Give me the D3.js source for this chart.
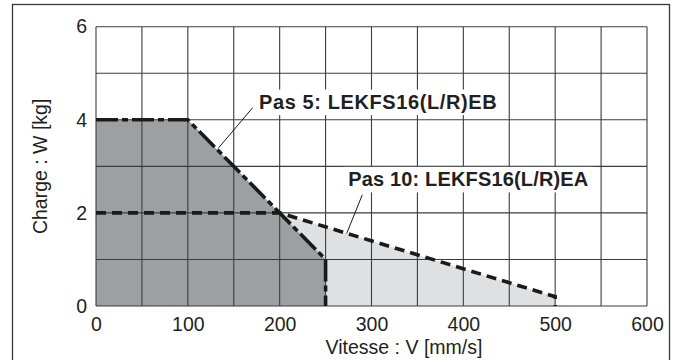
<!DOCTYPE html>
<html>
<head>
<meta charset="utf-8">
<script src="https://cdn.jsdelivr.net/npm/d3@7"></script>
<style>
  html, body { margin: 0; padding: 0; background: #fff; }
  svg { display: block; }
  text { font-family: "Liberation Sans", Arial, Helvetica, sans-serif; fill: #231f20; }
</style>
</head>
<body>
<svg id="chart" width="678" height="360"></svg>
<script>
// ---- data ----
const pas5Speed = [0, 100, 250, 250];
const pas5Load  = [4, 4, 1, 0];
const pas10Speed = [0, 200, 500, 500];
const pas10Load  = [2, 2, 0.2, 0];
const xTickValues = [0, 100, 200, 300, 400, 500, 600];
const yTickValues = [0, 2, 4, 6];
const xGridValues = [0, 50, 100, 150, 200, 250, 300, 350, 400, 450, 500, 550, 600];
const yGridValues = [0, 1, 2, 3, 4, 5, 6];
const label5 = "Pas 5: LEKFS16(L/R)EB";
const label10 = "Pas 10: LEKFS16(L/R)EA";
const xTitle = "Vitesse : V [mm/s]";
const yTitle = "Charge : W [kg]";

// ---- layout ----
const plot = { left: 96, right: 647, top: 26.7, bottom: 306 };
const svg = d3.select("#chart");

const x = d3.scaleLinear().domain([0, 600]).range([plot.left, plot.right]);
const y = d3.scaleLinear().domain([0, 6]).range([plot.bottom, plot.top]);

// outer frame
svg.append("rect")
  .attr("x", 12.5).attr("y", 4.5)
  .attr("width", 657).attr("height", 370)
  .attr("fill", "none").attr("stroke", "#3a3a3a").attr("stroke-width", 1.3);

const pts5 = pas5Speed.map((s, i) => [s, pas5Load[i]]);
const pts10 = pas10Speed.map((s, i) => [s, pas10Load[i]]);

const area = d3.area().x(d => x(d[0])).y0(y(0)).y1(d => y(d[1]));
const line = d3.line().x(d => x(d[0])).y(d => y(d[1]));

// fills
svg.append("path").datum(pts10.slice(0, 3)).attr("d", area).attr("fill", "#dfe0e2");
svg.append("path").datum(pts5.slice(0, 3)).attr("d", area).attr("fill", "#9e9fa3");

// grid
const grid = svg.append("g").attr("stroke", "#3c3c3c").attr("stroke-width", 1.1);
grid.selectAll("line.v").data(xGridValues).join("line")
  .attr("x1", d => x(d)).attr("x2", d => x(d))
  .attr("y1", y(0)).attr("y2", y(6));
grid.selectAll("line.h").data(yGridValues).join("line")
  .attr("x1", x(0)).attr("x2", x(600))
  .attr("y1", d => y(d)).attr("y2", d => y(d));

// axes (labels only)
const xAxis = d3.axisBottom(x).tickValues(xTickValues).tickFormat(d3.format("d"))
  .tickSize(0).tickPadding(11);
const gx = svg.append("g").attr("transform", `translate(0,${plot.bottom})`).call(xAxis);
gx.select(".domain").remove();
gx.selectAll("text").style("font-size", "19.5px").attr("fill", "#231f20")
  .style("font-family", "'Liberation Sans', Arial, sans-serif");

const yAxis = d3.axisLeft(y).tickValues(yTickValues).tickFormat(d3.format("d"))
  .tickSize(0).tickPadding(9);
const gy = svg.append("g").attr("transform", `translate(${plot.left},0)`).call(yAxis);
gy.select(".domain").remove();
gy.selectAll("text").style("font-size", "19.5px").attr("fill", "#231f20")
  .style("font-family", "'Liberation Sans', Arial, sans-serif");

// axis titles
svg.append("text").attr("x", 404).attr("y", 354)
  .attr("text-anchor", "middle").style("font-size", "19.5px").text(xTitle);
svg.append("text")
  .attr("transform", `translate(47,${(plot.top + plot.bottom) / 2}) rotate(-90)`)
  .attr("text-anchor", "middle").style("font-size", "19.5px").text(yTitle);

// curves
svg.append("path").datum(pts10).attr("d", line)
  .attr("fill", "none").attr("stroke", "#1a1a1a").attr("stroke-width", 3.6)
  .attr("stroke-dasharray", "10,6");
svg.append("path").datum(pts5).attr("d", line)
  .attr("fill", "none").attr("stroke", "#1a1a1a").attr("stroke-width", 3.6)
  .attr("stroke-dasharray", "22,4,6,4");

// annotation label boxes and leaders
function label(txt, sx, sy, len, leader) {
  const tx = x(sx), ty = y(sy);
  svg.append("rect")
    .attr("x", tx - 5).attr("y", ty - 19.5)
    .attr("width", len + 10).attr("height", 25.5)
    .attr("fill", "#fff");
  svg.append("text").attr("x", tx).attr("y", ty)
    .style("font-size", "20px").style("font-weight", "bold")
    .attr("textLength", len).attr("lengthAdjust", "spacing")
    .text(txt);
  svg.append("line")
    .attr("x1", x(leader[0])).attr("y1", y(leader[1]))
    .attr("x2", x(leader[2])).attr("y2", y(leader[3]))
    .attr("stroke", "#1a1a1a").attr("stroke-width", 1);
}
label(label5, 177.6, 4.23, 237.5, [170.6, 4.26, 133.2, 3.39]);
label(label10, 274.7, 2.57, 240, [290.0, 2.39, 273.0, 1.56]);
</script>
</body>
</html>
